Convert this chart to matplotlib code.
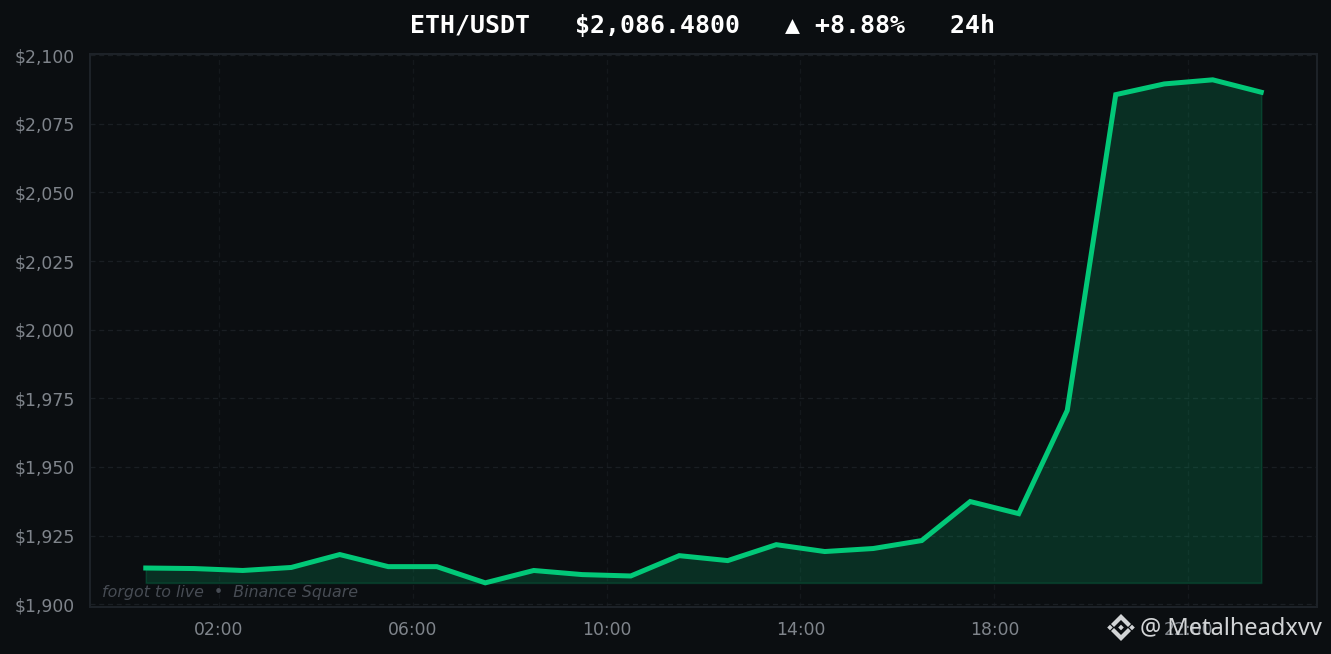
import numpy as np
import matplotlib
matplotlib.use("Agg")
import matplotlib.pyplot as plt
from matplotlib.patches import Polygon
from matplotlib.ticker import FuncFormatter

hours = [h + 0.5 for h in range(24)]
prices = [1913.2, 1913.0, 1912.3, 1913.4, 1918.1, 1913.7, 1913.7, 1907.8,
          1912.3, 1910.8, 1910.3, 1917.7, 1915.9, 1921.7, 1919.2, 1920.3,
          1923.2, 1937.4, 1933.0, 1970.6, 2085.6, 2089.5, 2091.0, 2086.48]
xticks = [2, 6, 10, 14, 18, 22]
xlabels = ["02:00", "06:00", "10:00", "14:00", "18:00", "22:00"]
yticks = [1900, 1925, 1950, 1975, 2000, 2025, 2050, 2075, 2100]

BG = "#0b0e11"
GREEN = "#02c878"

fig = plt.figure(figsize=(13.31, 6.54), dpi=100, facecolor=BG)
ax = fig.add_axes([90 / 1331, 1 - 607 / 654, (1317 - 90) / 1331, (607 - 54) / 654], facecolor=BG)

base = min(prices)
ax.fill_between(hours, prices, base, color=GREEN, alpha=0.18, linewidth=1.2)
ax.plot(hours, prices, color=GREEN, linewidth=3.6, solid_joinstyle="miter", solid_capstyle="projecting")

ax.set_xlim(-0.65, 24.65)
ax.set_ylim(1899.0, 2100.4)
ax.set_xticks(xticks)
ax.set_xticklabels(xlabels)
ax.set_yticks(yticks)
ax.yaxis.set_major_formatter(FuncFormatter(lambda v, _: f"${v:,.0f}"))
ax.tick_params(axis="both", length=0, labelsize=12.4, labelcolor="#7f848b")
ax.tick_params(axis="x", pad=10)
ax.tick_params(axis="y", pad=11)
ax.grid(True, axis="y", color="#1a1e23", linewidth=0.9, linestyle=(0, (4, 3)))
ax.grid(True, axis="x", color="#14181c", linewidth=0.9, linestyle=(0, (4, 3)))
ax.set_axisbelow(True)
for s in ax.spines.values():
    s.set_color("#1e2329")
    s.set_linewidth(1.4)

fig.text(703 / 1331, 1 - 26 / 654, "ETH/USDT   $2,086.4800   ▲ +8.88%   24h",
         color="white", fontsize=17.95, fontweight="bold", family="DejaVu Sans Mono",
         ha="center", va="center")
fig.text(102 / 1331, 1 - 592 / 654, "forgot to live  •  Binance Square", color="#474c54",
         fontsize=11.4, style="italic", ha="left", va="center")

# watermark: logo + handle
LOGO = "#d2d4d6"
def poly(pts):
    fig.add_artist(Polygon([(x / 1331, 1 - y / 654) for x, y in pts],
                           transform=fig.transFigure, color=LOGO, lw=0))
def diamond(cx, cy, r):
    poly([(cx - r, cy), (cx, cy - r), (cx + r, cy), (cx, cy + r)])
def chevron(cx, cy, s):
    poly([(cx - 10, cy), (cx, cy + s * 10), (cx + 10, cy), (cx + 7, cy - s * 3),
          (cx, cy + s * 4), (cx - 7, cy - s * 3)])
chevron(1121, 624, -1)
chevron(1121, 631, 1)
diamond(1121, 627.5, 2.8)
diamond(1110, 627.5, 2.8)
diamond(1132, 627.5, 2.8)
fig.text(1140 / 1331, 1 - 628 / 654, "@ Metalheadxvv", color=LOGO, fontsize=17,
         family="Noto Sans", ha="left", va="center")

fig.savefig("out.png", dpi=100, facecolor=BG)
